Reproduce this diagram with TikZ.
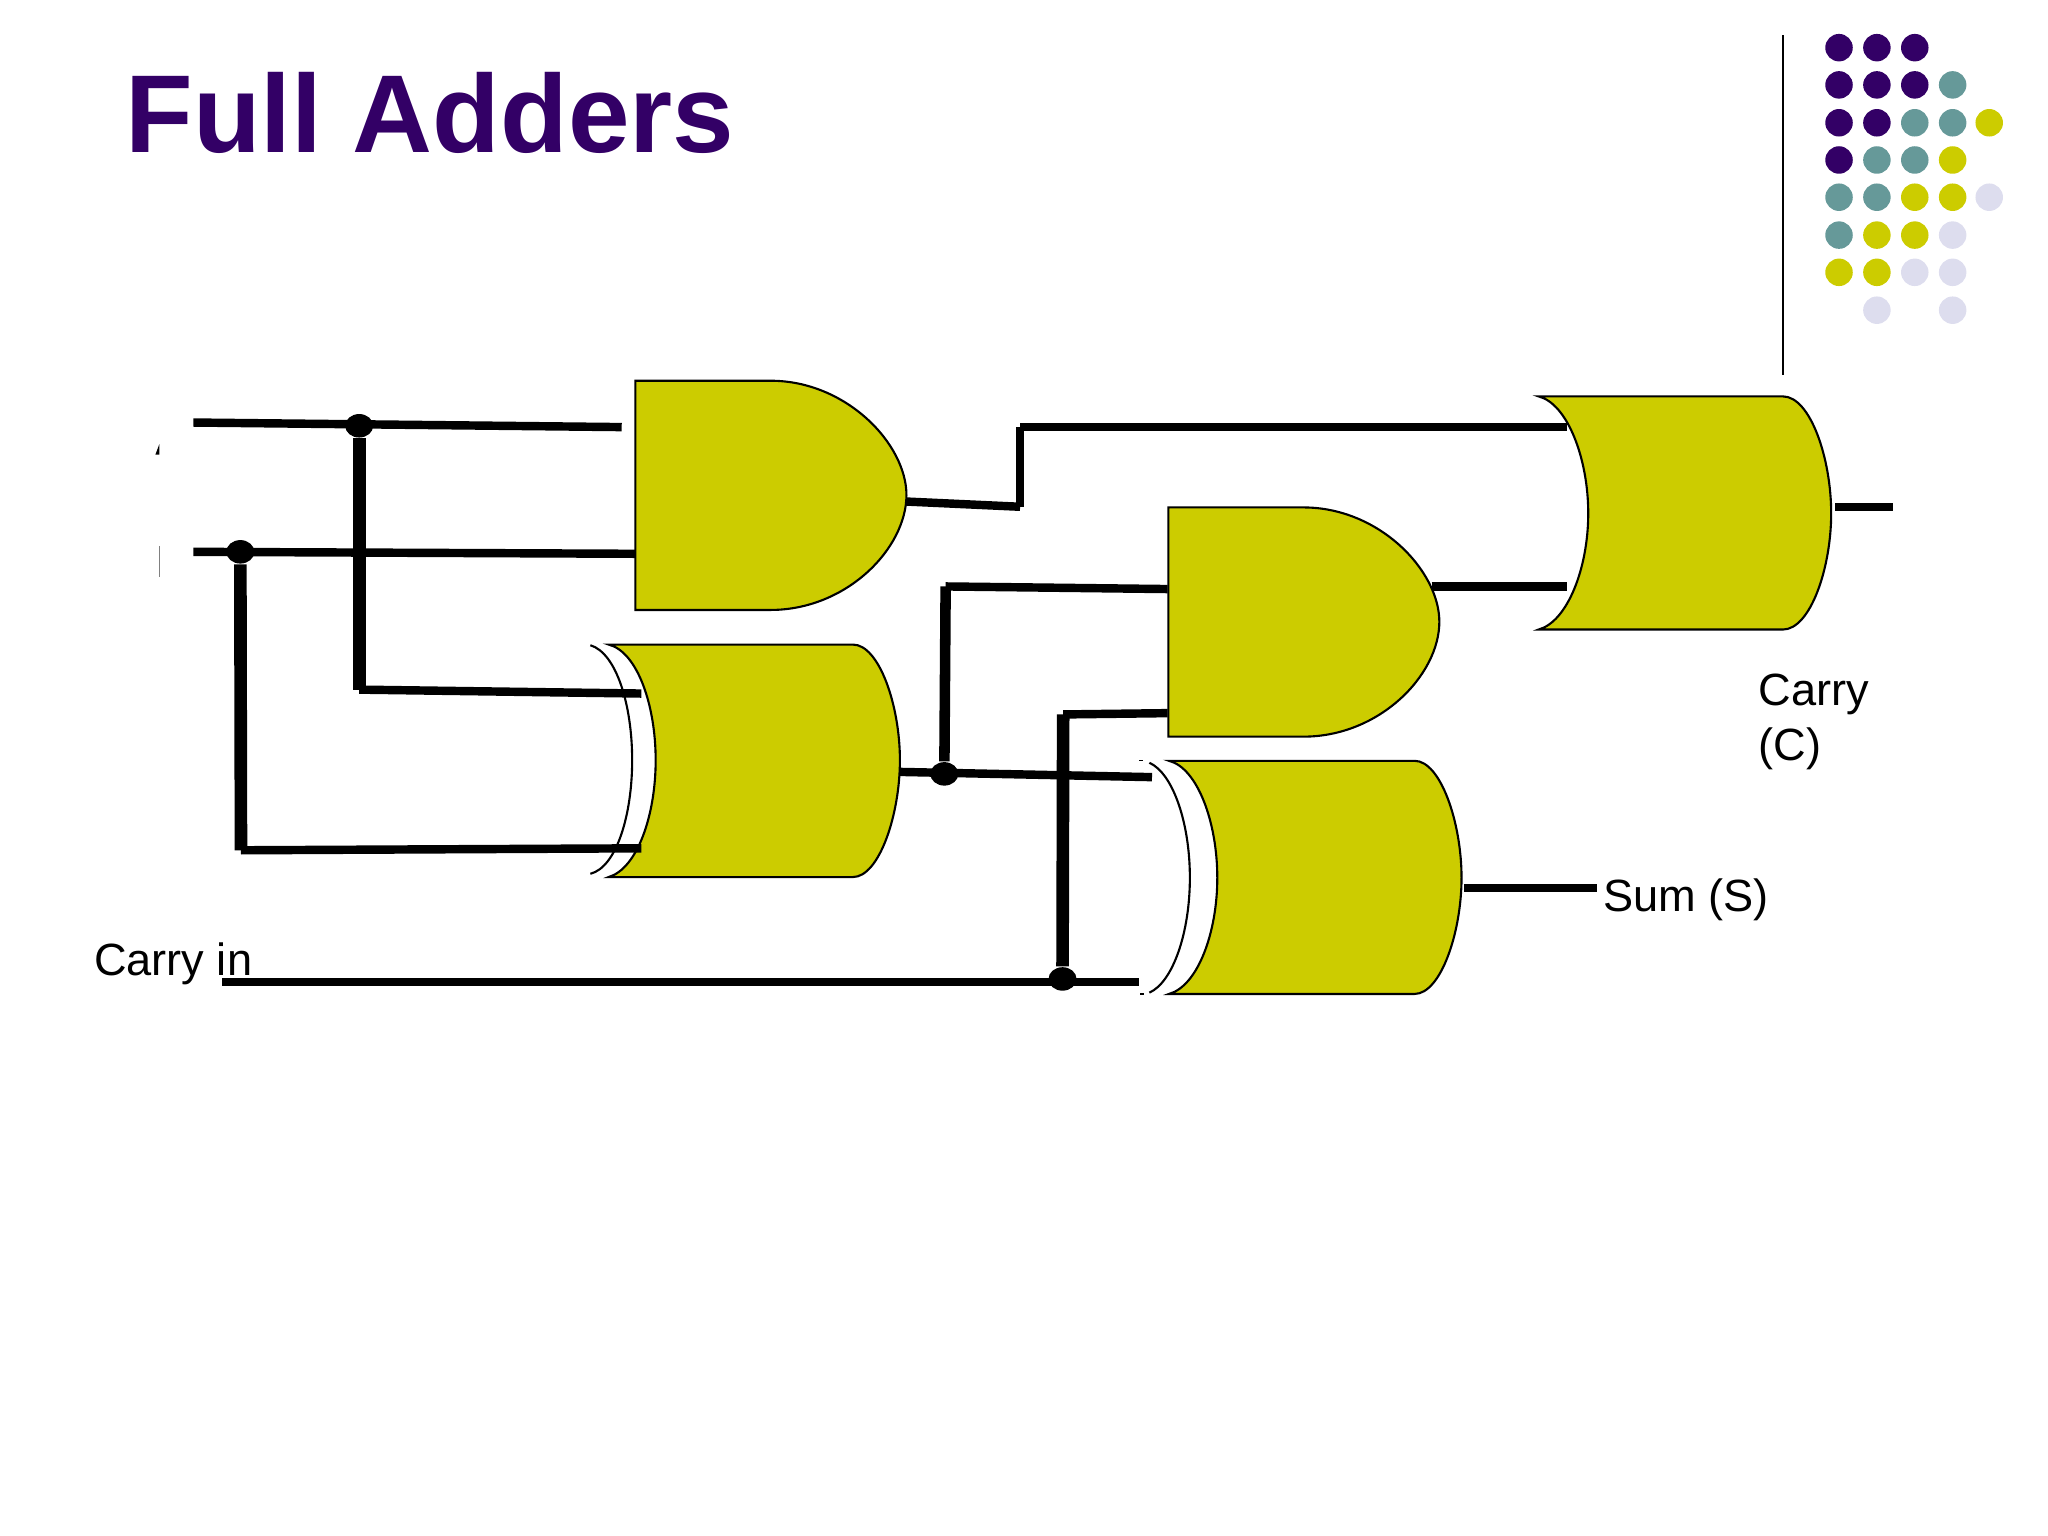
\documentclass[tikz,border=0pt]{standalone}
\usepackage{fontspec}
\setmainfont{Liberation Sans}
\usetikzlibrary{shapes.geometric}
\definecolor{gatecol}{HTML}{CCCC00}
\definecolor{titlecol}{HTML}{330066}
\definecolor{tealcol}{HTML}{669999}
\definecolor{lavcol}{HTML}{DDDDEE}
\tikzset{
  wire/.style={line width=2.4pt},
  fatwire/.style={line width=3.6pt},
  gate/.style={draw=black,fill=gatecol,line width=0.6pt},
  arc/.style={draw=black,line width=0.6pt},
  joint/.style={ellipse,fill=black,inner sep=0pt,minimum width=0.28cm,minimum height=0.235cm},
  spot/.style={circle,inner sep=0pt,minimum size=0.275cm},
  label/.style={anchor=base west,inner sep=0pt,font=\fontsize{12.85}{15.6}\selectfont}
}
\begin{document}
\begin{tikzpicture}[x=0.013061cm,y=-0.013061cm]
\useasboundingbox (0,0) rectangle (1568,1176);
\node[anchor=base west,inner sep=0pt,text=titlecol,font=\fontsize{31.5}{36}\selectfont\bfseries] (title) at (95.5,117) {Full Adders};
% side rule and dots
\coordinate (r1) at (1365,27);
\coordinate (r2) at (1365,287);
\path[-,line width=0.6pt,draw=black] (r1) edge (r2);
\foreach \x/\y/\c in {1408/36.5/titlecol,1437/36.5/titlecol,1466/36.5/titlecol,
  1408/65/titlecol,1437/65/titlecol,1466/65/titlecol,1495/65/tealcol,
  1408/94/titlecol,1437/94/titlecol,1466/94/tealcol,1495/94/tealcol,1523/94/gatecol,
  1408/122.5/titlecol,1437/122.5/tealcol,1466/122.5/tealcol,1495/122.5/gatecol,
  1408/151/tealcol,1437/151/tealcol,1466/151/gatecol,1495/151/gatecol,1523/151/lavcol,
  1408/180/tealcol,1437/180/gatecol,1466/180/gatecol,1495/180/lavcol,
  1408/208.5/gatecol,1437/208.5/gatecol,1466/208.5/lavcol,1495/208.5/lavcol,
  1437/237.5/lavcol,1495/237.5/lavcol}
  \node[spot,fill=\c] (d\x-\y) at (\x,\y) {};
% gates
\draw[gate] (486.5,291.5) -- (590,291.5) .. controls (648,291.5) and (694,340) .. (694,379) .. controls (694,420) and (648,467) .. (590,467) -- (486.5,467) -- cycle;
\draw[gate] (894.5,388.5) -- (998,388.5) .. controls (1056,388.5) and (1102,437) .. (1102,476) .. controls (1102,517) and (1056,564) .. (998,564) -- (894.5,564) -- cycle;
\draw[gate] (466,493.5) -- (653,493.5) .. controls (673,493.5) and (689,540) .. (689,582) .. controls (689,624) and (673,671.5) .. (653,671.5) -- (466,671.5) .. controls (488,665) and (502,624) .. (502,582) .. controls (502,540) and (488,499) .. (466,493.5) -- cycle;
\draw[arc] (452,494) .. controls (472,500) and (484,540) .. (484,582) .. controls (484,624) and (472,664) .. (452,669);
\draw[gate] (895,582.5) -- (1083,582.5) .. controls (1103,582.5) and (1119,630) .. (1119,672) .. controls (1119,714) and (1103,761) .. (1083,761) -- (895,761) .. controls (917,755) and (932,714) .. (932,672) .. controls (932,630) and (917,588) .. (895,582.5) -- cycle;
\draw[arc] (880,584) .. controls (898,592) and (911,630) .. (911,672) .. controls (911,714) and (898,752) .. (880,760);
\draw[gate] (1178,303.5) -- (1365,303.5) .. controls (1386,303.5) and (1402,351) .. (1402,393) .. controls (1402,435) and (1386,482) .. (1365,482) -- (1178,482) .. controls (1200,476) and (1216,435) .. (1216,393) .. controls (1216,351) and (1200,309) .. (1178,303.5) -- cycle;
% leftovers of the cut off inputs
\fill (119,348) -- (122,348) -- (122,340) -- cycle;
\draw[gray,line width=0.4pt] (122,418) -- (122,442);
\fill (872,581.5) rectangle (875,583);
\fill (873,760.5) rectangle (876,762);
% wire ends
\coordinate (a1) at (148,323.5);
\coordinate (a2) at (476,327);
\coordinate (b1) at (148,422.5);
\coordinate (b2) at (486,424);
\coordinate (a3) at (275,528);
\coordinate (a3x) at (275,528);
\coordinate (a4) at (491,531);
\coordinate (b3) at (184.5,651);
\coordinate (b3x) at (184.5,651);
\coordinate (b4) at (491,649.5);
\coordinate (n1) at (694,384);
\coordinate (n2) at (781,388);
\coordinate (n3) at (781,327);
\coordinate (n4) at (1200,327);
\coordinate (s1) at (689,591);
\coordinate (s2) at (882,595);
\coordinate (s3) at (724,449);
\coordinate (s4) at (894,451);
\coordinate (c1) at (170,752);
\coordinate (c2) at (872,752);
\coordinate (c3) at (814,547);
\coordinate (c4) at (894,546);
\coordinate (g1) at (1096,449);
\coordinate (g2) at (1200,449);
\coordinate (o1) at (1121,680);
\coordinate (o2) at (1223,680);
\coordinate (o3) at (1405,388);
\coordinate (o4) at (1449,388);
\node[joint] (ja) at (275,326) {};
\node[joint] (jb) at (184,422.5) {};
\node[joint] (js) at (723,592.5) {};
\node[joint] (jc) at (813.5,749.5) {};
\path[-,wire] (a1) edge (a2) (b1) edge (b2);
\path[-,fatwire] (ja) edge (a3) (jb) edge (b3);
\path[-,wire] (a3x) edge (a4) (b3x) edge (b4);
\path[-,wire] (n1) edge (n2) (n2) edge (n3) (n3) edge (n4);
\path[-,wire] (s1) edge (s2) (s3) edge (s4);
\path[-,line width=3pt] (js) edge (s3);
\path[-,wire] (c1) edge (c2) (c3) edge (c4);
\path[-,fatwire] (c3) edge (jc);
\path[-,wire] (g1) edge (g2) (o1) edge (o2) (o3) edge (o4);
% labels
\node[label] (carryin) at (71.5,747) {Carry in};
\node[label] (sum) at (1227,698) {Sum (S)};
\node[label] (carry1) at (1346,540) {Carry};
\node[label] (carry2) at (1346,582) {(C)};
\end{tikzpicture}
\end{document}
